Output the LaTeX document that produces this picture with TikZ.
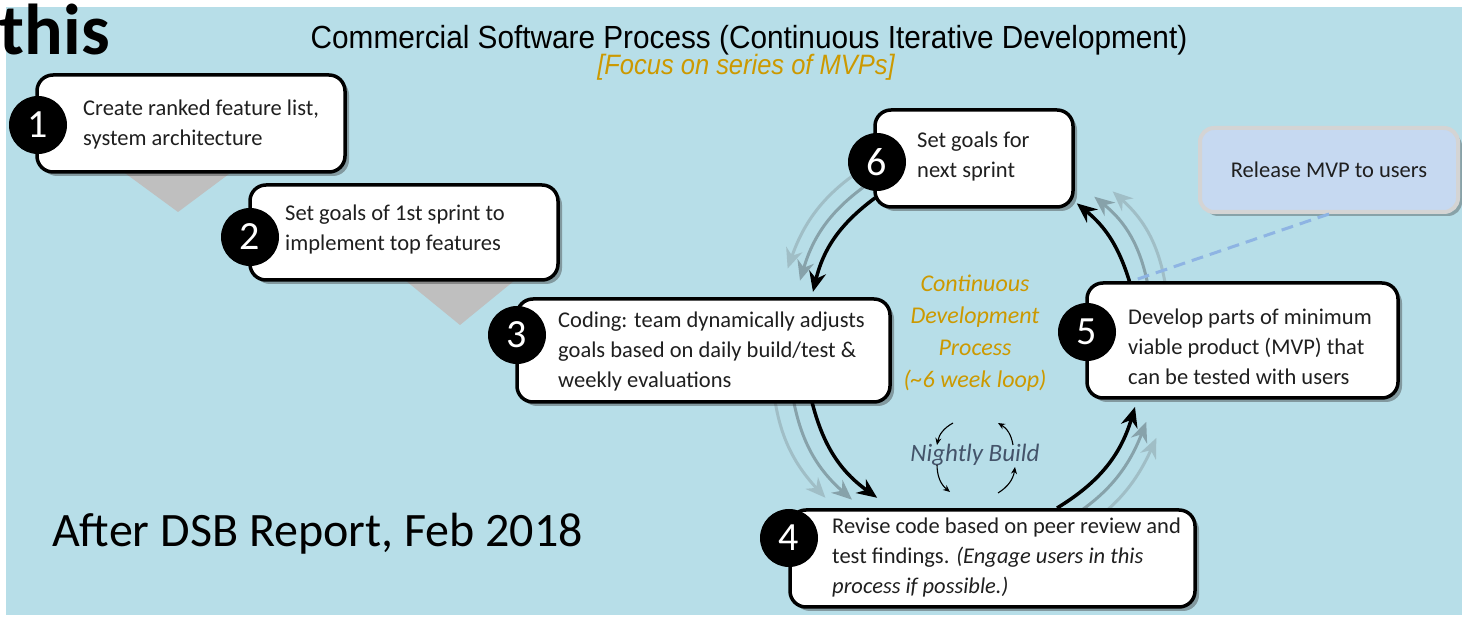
\documentclass[tikz,border=0pt]{standalone}
\usepackage{graphicx}
\usepackage{fontspec}
\setmainfont{Carlito}
\newfontfamily\titlefont{Liberation Sans}
\usetikzlibrary{arrows.meta,shadows,calc}
\definecolor{bgblue}{RGB}{183,222,232}
\definecolor{gold}{RGB}{204,153,0}
\definecolor{ghostA}{RGB}{135,162,170}
\definecolor{ghostB}{RGB}{160,190,198}
\definecolor{relfill}{RGB}{198,217,241}
\definecolor{relline}{RGB}{212,212,212}
\definecolor{dashblue}{RGB}{142,180,227}
\definecolor{slate}{RGB}{68,84,106}
\definecolor{trigray}{RGB}{191,191,191}
\begin{document}
\begin{tikzpicture}[x=1pt,y=1pt,
  boxsty/.style={draw=black,line width=3.5pt,fill=white,rounded corners=16pt,
     drop shadow={shadow xshift=4pt,shadow yshift=-4pt,opacity=0.4,fill=black!80}},
  numsty/.style={circle,fill=black,minimum size=58pt,inner sep=0pt,text=white,font=\fontsize{40}{40}\selectfont},
  boxtext/.style={anchor=west,align=left,inner sep=0pt,text=black!88,font=\fontsize{22.5}{30}\selectfont},
  mainarr/.style={draw=black,line width=3.5pt,-{Stealth[length=20pt,width=17pt]}},
  ghostone/.style={draw=ghostA,line width=3pt,-{Stealth[length=20pt,width=17pt]}},
  ghosttwo/.style={draw=ghostB,line width=3pt,-{Stealth[length=20pt,width=17pt]}},
  smallarr/.style={draw=black,line width=1.1pt,-{Stealth[length=7pt,width=6pt]}},
]
% canvas
\fill[white] (0,0) rectangle (1462,618);
\fill[bgblue] (6,3) rectangle (1462,611);
\useasboundingbox (0,0) rectangle (1462,618);

% heading texts
\node[anchor=base east,inner sep=0pt,font=\bfseries\fontsize{72}{72}\selectfont] (this) at (110,563) {this};
\node[anchor=base,inner sep=0pt,font=\titlefont\fontsize{32}{36}\selectfont] (title) at (749,569)
  {\scalebox{0.93}[1]{Commercial Software Process (Continuous Iterative Development)}};
\node[anchor=base,inner sep=0pt,text=gold,font=\titlefont\itshape\fontsize{28}{30}\selectfont] (sub) at (746,543)
  {\scalebox{0.91}[1]{[Focus on series of MVPs]}};
\node[anchor=base west,inner sep=0pt,font=\fontsize{48}{52}\selectfont] (dsb) at (52,71) {After DSB Report, Feb 2018};

% grey chevrons
\fill[trigray] (118,450) -- (237,450) -- (178,406) -- cycle;
\fill[trigray] (400,342) -- (520,342) -- (460,293) -- cycle;

% loop geometry
\coordinate (cc) at (972,272);
\coordinate (p6s) at ($(cc)+(123.2:177)$);
\coordinate (p3e) at ($(cc)+(161.2:168)$);
\coordinate (p3s) at ($(cc)+(199.3:169.5)$);
\coordinate (p4e) at ($(cc)+(238:179)$);
\coordinate (p4s) at ($(cc)+(297.7:183)$);
\coordinate (p5e) at ($(cc)+(339.5:174)$);
\coordinate (p5s) at ($(cc)+(21.7:170)$);
\coordinate (p6e) at ($(cc)+(53.7:177)$);

% ghost trails
\draw[ghosttwo] ($(cc)+(117.2:209)$) to[bend right=20] ($(cc)+(157.2:200)$);
\draw[ghostone] ($(cc)+(120.2:193)$) to[bend right=20] ($(cc)+(159.2:184)$);
\draw[ghosttwo] ($(cc)+(187.3:201.5)$) to[bend right=20] ($(cc)+(226:211)$);
\draw[ghostone] ($(cc)+(193.3:185.5)$) to[bend right=20] ($(cc)+(232:195)$);
\draw[ghosttwo] ($(cc)+(291.7:215)$) to[bend right=20] ($(cc)+(333.5:206)$);
\draw[ghostone] ($(cc)+(294.7:199)$) to[bend right=20] ($(cc)+(336.5:190)$);
\draw[ghosttwo] ($(cc)+(15.7:202)$) to[bend right=20] ($(cc)+(47.7:209)$);
\draw[ghostone] ($(cc)+(18.7:186)$) to[bend right=20] ($(cc)+(50.7:193)$);

% boxes
\node[boxsty,minimum width=308pt,minimum height=97pt] (b1) at (191,494.5) {};
\node[boxsty,minimum width=308pt,minimum height=95pt] (b2) at (404,385.5) {};
\node[boxsty,minimum width=373pt,minimum height=103pt] (b3) at (703.5,267.5) {};
\node[boxsty,minimum width=405pt,minimum height=97pt] (b4) at (992.5,59.5) {};
\node[boxsty,minimum width=311pt,minimum height=115pt] (b5) at (1242.5,277.5) {};
\node[boxsty,minimum width=198pt,minimum height=97pt] (b6) at (974,459.5) {};
\node[draw=relline,line width=4pt,fill=relfill,rounded corners=14pt,minimum width=258pt,minimum height=84pt,
  drop shadow={shadow xshift=4pt,shadow yshift=-4pt,opacity=0.35,fill=black!80},
  text=black!88,font=\fontsize{22.5}{30}\selectfont] (rel) at (1329,448) {Release MVP to users};

% dashed link
\draw[dashblue,line width=3pt,dash pattern=on 12pt off 7pt] (rel.south) -- ([xshift=46pt]b5.north west);

% box texts
\node[boxtext] (t1) at (83,493) {Create ranked feature list,\\system architecture};
\node[boxtext] (t2) at (285,388) {Set goals of 1st sprint to\\implement top features};
\node[boxtext] (t3) at (558,266) {Coding: team dynamically adjusts\\goals based on daily build/test \&\\weekly evaluations};
\node[boxtext] (t4) at (832,60) {Revise code based on peer review and\\test findings. \textit{(Engage users in this}\\\textit{process if possible.)}};
\node[boxtext] (t5) at (1128,271) {Develop parts of minimum\\viable product (MVP) that\\can be tested with users};
\node[boxtext] (t6) at (917,461) {Set goals for\\next sprint};

% number badges
\node[numsty] (n1) at (38,493) {1};
\node[numsty] (n2) at (250,381) {2};
\node[numsty] (n3) at (517,283) {3};
\node[numsty] (n4) at (789,80) {4};
\node[numsty] (n5) at (1087,286) {5};
\node[numsty] (n6) at (877,456) {6};

% main loop arrows
\draw[mainarr] (p6s) to[bend right=20] (p3e);
\draw[mainarr] (p3s) to[bend right=20] (p4e);
\draw[mainarr] (p4s) to[bend right=21] (p5e);
\draw[mainarr] (p5s) to[bend right=17] (p6e);

% centre texts
\node[align=center,text=gold,font=\itshape\fontsize{24}{32}\selectfont] (loop) at (975,285)
  {Continuous\\Development\\Process\\(\textasciitilde 6 week loop)};
\node[text=slate,font=\itshape\fontsize{25}{30}\selectfont,inner sep=2pt] (nb) at (975,163) {Nightly Build};

% nightly build mini cycle
\coordinate (q1s) at (953,195);
\coordinate (q1e) at (937,173);
\coordinate (q2s) at (937,153);
\coordinate (q2e) at (950,126);
\coordinate (q3s) at (998,125);
\coordinate (q3e) at (1015,151);
\coordinate (q4s) at (1013,173);
\coordinate (q4e) at (998,195);
\draw[smallarr] (q1s) to[bend right=25] (q1e);
\draw[smallarr] (q2s) to[bend right=25] (q2e);
\draw[smallarr] (q3s) to[bend right=25] (q3e);
\draw[smallarr] (q4s) to[bend right=25] (q4e);
\end{tikzpicture}
\end{document}
